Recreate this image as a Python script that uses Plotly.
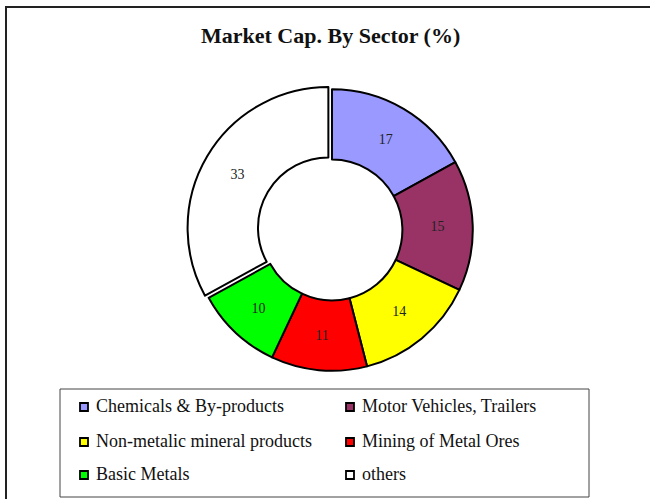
import plotly.graph_objects as go

# Data
sectors = ["Chemicals & By-products", "Motor Vehicles, Trailers",
           "Non-metalic mineral products", "Mining of Metal Ores",
           "Basic Metals", "others"]
shares = [17, 15, 14, 11, 10, 33]
colors = ["#9999FF", "#993366", "#FFFF00", "#FF0000", "#00FF00", "#FFFFFF"]
pulls = [0, 0, 0, 0, 0, 0.03]

W, H = 650, 499


def px(x):
    return x / W


def py(y):
    return 1 - y / H


fig = go.Figure()
fig.add_trace(go.Pie(
    labels=sectors, values=shares, sort=False, direction="clockwise",
    rotation=0, hole=0.5, pull=pulls,
    marker=dict(colors=colors, line=dict(color="#000000", width=2)),
    textinfo="value", textposition="inside", insidetextorientation="horizontal",
    textfont=dict(family="Liberation Serif", size=14, color="#222222"),
    domain=dict(x=[px(187), px(477)], y=[py(375), py(85)]),
    showlegend=False, hoverinfo="label+value",
))

shapes = []
annotations = []
# outer frame
shapes.append(dict(type="rect", xref="paper", yref="paper",
                   x0=px(6), x1=1.02, y0=-0.02, y1=py(7),
                   line=dict(color="#222222", width=2), fillcolor="rgba(0,0,0,0)"))
# legend box
shapes.append(dict(type="rect", xref="paper", yref="paper",
                   x0=px(60), x1=px(589), y0=py(497), y1=py(389),
                   line=dict(color="#444444", width=1), fillcolor="rgba(0,0,0,0)"))

col_x = [80, 346]
row_y = [406, 441, 474]
for i, (lab, col) in enumerate(zip(sectors, colors)):
    cx = col_x[i % 2]
    cy = row_y[i // 2]
    shapes.append(dict(type="rect", xref="paper", yref="paper",
                       x0=px(cx), x1=px(cx + 8), y0=py(cy + 5), y1=py(cy - 3),
                       line=dict(color="#000000", width=1.8), fillcolor=col))
    annotations.append(dict(xref="paper", yref="paper", x=px(cx + 14), y=py(cy),
                            xanchor="left", yanchor="middle", showarrow=False,
                            text=lab, font=dict(family="Liberation Serif", size=18,
                                                color="#111111")))

annotations.append(dict(xref="paper", yref="paper", x=px(330), y=py(36),
                        xanchor="center", yanchor="middle", showarrow=False,
                        text="<b>Market Cap. By Sector (%)</b>",
                        font=dict(family="Liberation Serif", size=22, color="#111111")))

fig.update_layout(
    width=W, height=H, margin=dict(l=0, r=0, t=0, b=0),
    paper_bgcolor="white", plot_bgcolor="white",
    shapes=shapes, annotations=annotations, showlegend=False,
)

fig.write_html("out.html", config={"displayModeBar": False},
               post_script="document.body.style.margin='0px';document.body.style.overflow='hidden';")
